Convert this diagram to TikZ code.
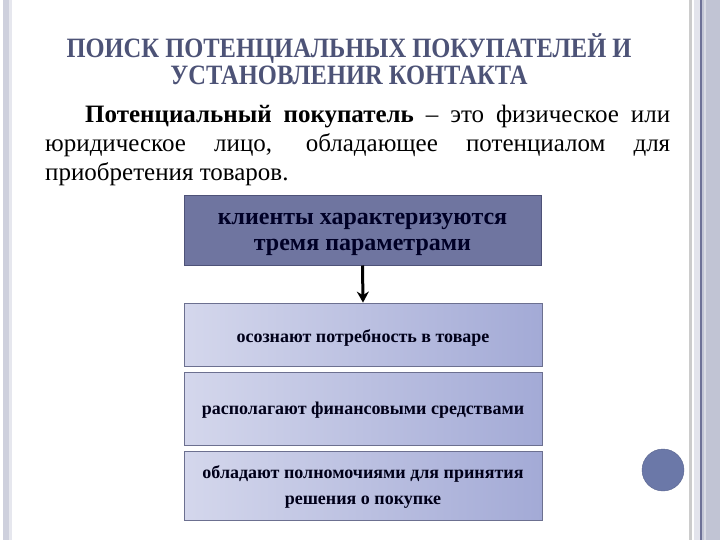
\documentclass[tikz,border=0pt]{standalone}
\usepackage{fontspec}
\setmainfont{Liberation Serif}
\newfontfamily\timesru{Liberation Serif}
\usepackage{xcolor}
\usepackage{tikz}
\usetikzlibrary{arrows.meta, positioning}

\definecolor{titlecol}{HTML}{4D5377}
\definecolor{headfill}{HTML}{6F75A0}
\definecolor{headdraw}{HTML}{4E5278}
\definecolor{boxleft}{HTML}{D4D7EC}
\definecolor{boxright}{HTML}{A3AAD6}
\definecolor{boxdraw}{HTML}{6C7090}
\definecolor{strip}{HTML}{C1C4D4}
\definecolor{stripdark}{HTML}{6D7197}
\definecolor{dotcol}{HTML}{6B78A8}

\tikzset{
    headbox/.style={draw=headdraw, fill=headfill, line width=1pt, minimum width=357pt,
        minimum height=69pt},
    headtext/.style={align=center, font=\timesru\fontsize{24}{26}\selectfont\bfseries,
        text=black!85!blue},
    itembox/.style={draw=boxdraw, left color=boxleft, right color=boxright, line width=0.8pt,
        minimum width=358pt},
    itemtext/.style={align=center, font=\timesru\fontsize{18}{26}\selectfont\bfseries,
        text=black!90!blue}
}

\begin{document}
\begin{tikzpicture}[x=1pt, y=-1pt]
    \useasboundingbox (0,0) rectangle (720,540);
    \fill[white] (0,0) rectangle (720,540);

    % Rand
    \fill[strip!80] (3,0) rectangle (9,540);
    \fill[strip!40] (9,0) rectangle (12,540);
    \fill[black!20] (689,0) rectangle (691.5,540);
    \fill[strip!45] (694,0) rectangle (700,540);
    \fill[stripdark] (700,0) rectangle (702,540);
    \fill[strip] (702,0) rectangle (720,540);
    \fill[strip!60] (704,0) rectangle (705.5,540);

    % Titel
    \node[text=titlecol, font=\timesru\fontsize{28}{27}\selectfont\bfseries, align=center] (title)
        at (349,59) {\scalebox{0.875}[1]{ПОИСК ПОТЕНЦИАЛЬНЫХ ПОКУПАТЕЛЕЙ И}\\
        \scalebox{0.875}[1]{УСТАНОВЛЕНИR КОНТАКТА}};

    % Definition
    \node[text width=625pt, align=justify, inner sep=0pt, anchor=north west,
        font=\timesru\fontsize{25}{29}\selectfont] (defn) at (45,105)
        {\hspace*{40pt}\textbf{Потенциальный покупатель} – это физическое или\linebreak
        юридическое лицо, обладающее потенциалом для\linebreak
        приобретения товаров.};

    % Schema
    \node[headbox] (head) at (362.5,230.5) {};
    \node[headtext] (headlbl) at ([yshift=-4pt]head.center) {клиенты характеризуются\\тремя параметрами};

    \node[itembox, minimum height=63pt] (need) at (363,334.5) {};
    \node[itemtext] (needlbl) at ([yshift=-3pt]need.center) {осознают потребность в товаре};

    \node[itembox, minimum height=73pt] (money) at (363,408.5) {};
    \node[itemtext] (moneylbl) at ([yshift=-2pt]money.center) {располагают финансовыми средствами};

    \node[itembox, minimum height=69pt] (power) at (363,485.5) {};
    \node[itemtext] (powerlbl) at ([yshift=-1pt]power.center)
        {обладают полномочиями для принятия\\решения о покупке};

    \draw[line width=3pt, -{Stealth[length=11pt, width=12pt]}] (head.south) -- (need.north);

    \node[circle, fill=dotcol, draw=dotcol!85!black, minimum size=42pt] (dot) at (663,470) {};
\end{tikzpicture}
\end{document}
